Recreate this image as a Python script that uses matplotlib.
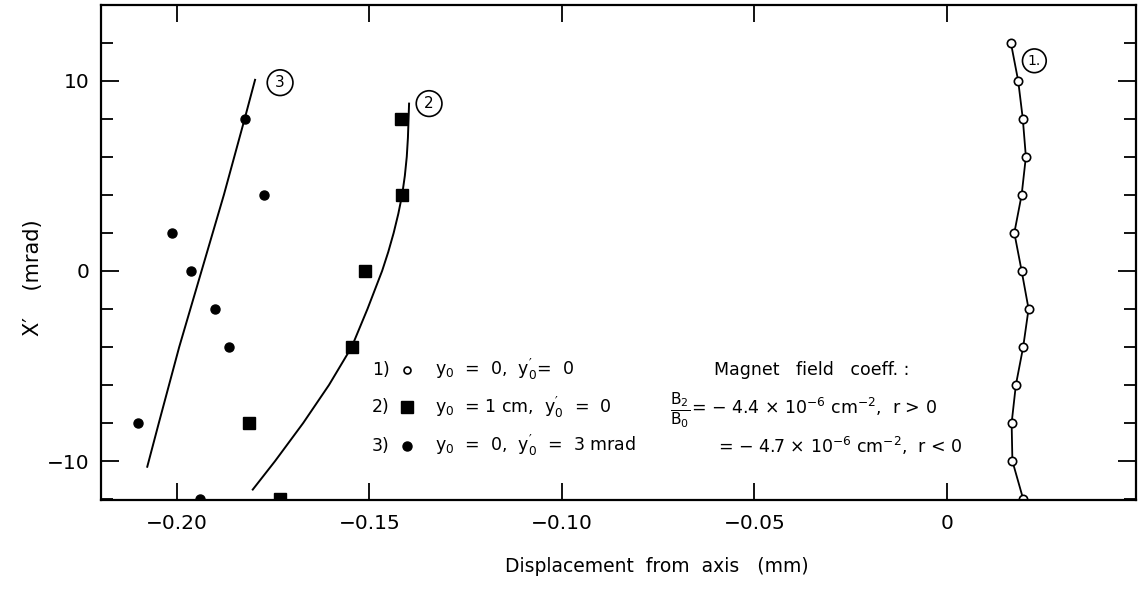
import numpy as np
import matplotlib
matplotlib.use('Agg')
import matplotlib.pyplot as plt
from matplotlib.ticker import FixedLocator, MultipleLocator

plt.rcParams['font.family'] = ['DejaVu Sans']
plt.rcParams['mathtext.default'] = 'regular'

# series 1: open circles, y0 = 0, y0' = 0
y1 = [12, 10, 8, 6, 4, 2, 0, -2, -4, -6, -8, -10, -12]
x1 = [0.0166, 0.0185, 0.0197, 0.0205, 0.0194, 0.0175, 0.0194,
      0.0212, 0.0198, 0.0179, 0.0168, 0.0170, 0.0198]

# series 2: squares, y0 = 1 cm
y2 = [8, 4, 0, -4, -8, -12]
x2 = [-0.1419, -0.1416, -0.1512, -0.1546, -0.1813, -0.1732]
# drawn curve 2
c2_y = [8.8, 7, 6, 5, 4, 3, 2, 1, 0, -2, -4, -6, -8, -10, -11.5]
c2_x = [-0.1397, -0.1400, -0.1403, -0.1408, -0.1415, -0.1425, -0.1437,
        -0.1451, -0.1467, -0.1505, -0.1546, -0.1605, -0.1672, -0.1745,
        -0.1803]

# series 3: filled circles, y0' = 3 mrad
y3 = [8, 4, 2, 0, -2, -4, -8, -12]
x3 = [-0.1823, -0.1773, -0.2014, -0.1964, -0.1902, -0.1864, -0.2102, -0.1940]
# drawn curve 3
c3_y = [10.05, 8, 4, 0, -4, -8, -10.3]
c3_x = [-0.1797, -0.1824, -0.1878, -0.1936, -0.1994, -0.2047, -0.2077]

xticks = [-0.20, -0.15, -0.10, -0.05, 0]
xticklabels = ['\u22120.20', '\u22120.15', '\u22120.10', '\u22120.05', '0']
yticks = [-10, 0, 10]
yticklabels = ['\u221210', '0', '10']

fig = plt.figure(figsize=(11.44, 5.9), dpi=100)
ax = fig.add_axes([0.088, 0.1525, 0.905, 0.8395])

ax.plot(x1, y1, '-', color='black', lw=1.3, marker='o', ms=6,
        mfc='white', mec='black', mew=1.2)
ax.plot(c2_x, c2_y, '-', color='black', lw=1.4)
ax.plot(x2, y2, 's', color='black', ms=9)
ax.plot(c3_x, c3_y, '-', color='black', lw=1.4)
ax.plot(x3, y3, 'o', color='black', ms=6.5)

ax.set_xlim(-0.2198, 0.0491)
ax.set_ylim(-12.05, 14.0)
ax.xaxis.set_major_locator(FixedLocator(xticks))
ax.set_xticklabels(xticklabels)
ax.yaxis.set_major_locator(FixedLocator(yticks))
ax.set_yticklabels(yticklabels)
ax.yaxis.set_minor_locator(MultipleLocator(2))

for s in ax.spines.values():
    s.set_linewidth(1.6)
ax.tick_params(axis='x', which='major', direction='in', length=12, width=1.3,
               top=True, labelsize=14.5, pad=10)
ax.tick_params(axis='y', which='major', direction='in', length=13, width=1.3,
               right=True, labelsize=14.5, pad=8)
ax.tick_params(axis='y', which='minor', direction='in', length=8.5, width=1.3,
               right=True)

# circled curve labels
circ = dict(boxstyle='circle,pad=0.35', fc='white', ec='black', lw=1.2)
ax.text(-0.1732, 9.9, '3', fontsize=11, ha='center', va='center', bbox=circ)
ax.text(-0.1345, 8.8, '2', fontsize=11, ha='center', va='center', bbox=circ)
ax.text(0.0227, 11.05, '1.', fontsize=10, ha='center', va='center', bbox=circ)

# key
rows = [-5.2, -7.16, -9.2]
fs = 12.5
ax.text(-0.1494, rows[0], '1)', fontsize=fs, va='center')
ax.text(-0.1494, rows[1], '2)', fontsize=fs, va='center')
ax.text(-0.1494, rows[2], '3)', fontsize=fs, va='center')
ax.plot([-0.1403], [rows[0]], 'o', ms=5, mfc='white', mec='black', mew=1.2)
ax.plot([-0.1403], [rows[1]], 's', color='black', ms=8)
ax.plot([-0.1403], [rows[2]], 'o', color='black', ms=6.5)
ax.text(-0.1330, rows[0], "y$_0$  =  0,  y$^{\\prime}_0$=  0", fontsize=fs, va='center')
ax.text(-0.1330, rows[1], "y$_0$  = 1 cm,  y$^{\\prime}_0$  =  0", fontsize=fs, va='center')
ax.text(-0.1330, rows[2], "y$_0$  =  0,  y$^{\\prime}_0$  =  3 mrad", fontsize=fs, va='center')

ax.text(-0.0605, rows[0], 'Magnet   field   coeff. :', fontsize=fs, va='center')
ax.text(-0.0667, rows[1] - 0.15, "$\\frac{B_2}{B_0}$", fontsize=16,
        ha='right', va='center')
ax.text(-0.0664, rows[1], "= \u2212 4.4 \u00d7 10$^{-6}$ cm$^{-2}$,  r > 0",
        fontsize=fs, va='center')
ax.text(-0.0595, rows[2], "= \u2212 4.7 \u00d7 10$^{-6}$ cm$^{-2}$,  r < 0",
        fontsize=fs, va='center')

fig.text(0.574, 0.04, 'Displacement  from  axis   (mm)', fontsize=13.5,
         ha='center', va='center')
fig.text(0.029, 0.53, 'X\u2032    (mrad)', fontsize=15, rotation=90,
         ha='center', va='center')

fig.savefig('out.png', dpi=100)
